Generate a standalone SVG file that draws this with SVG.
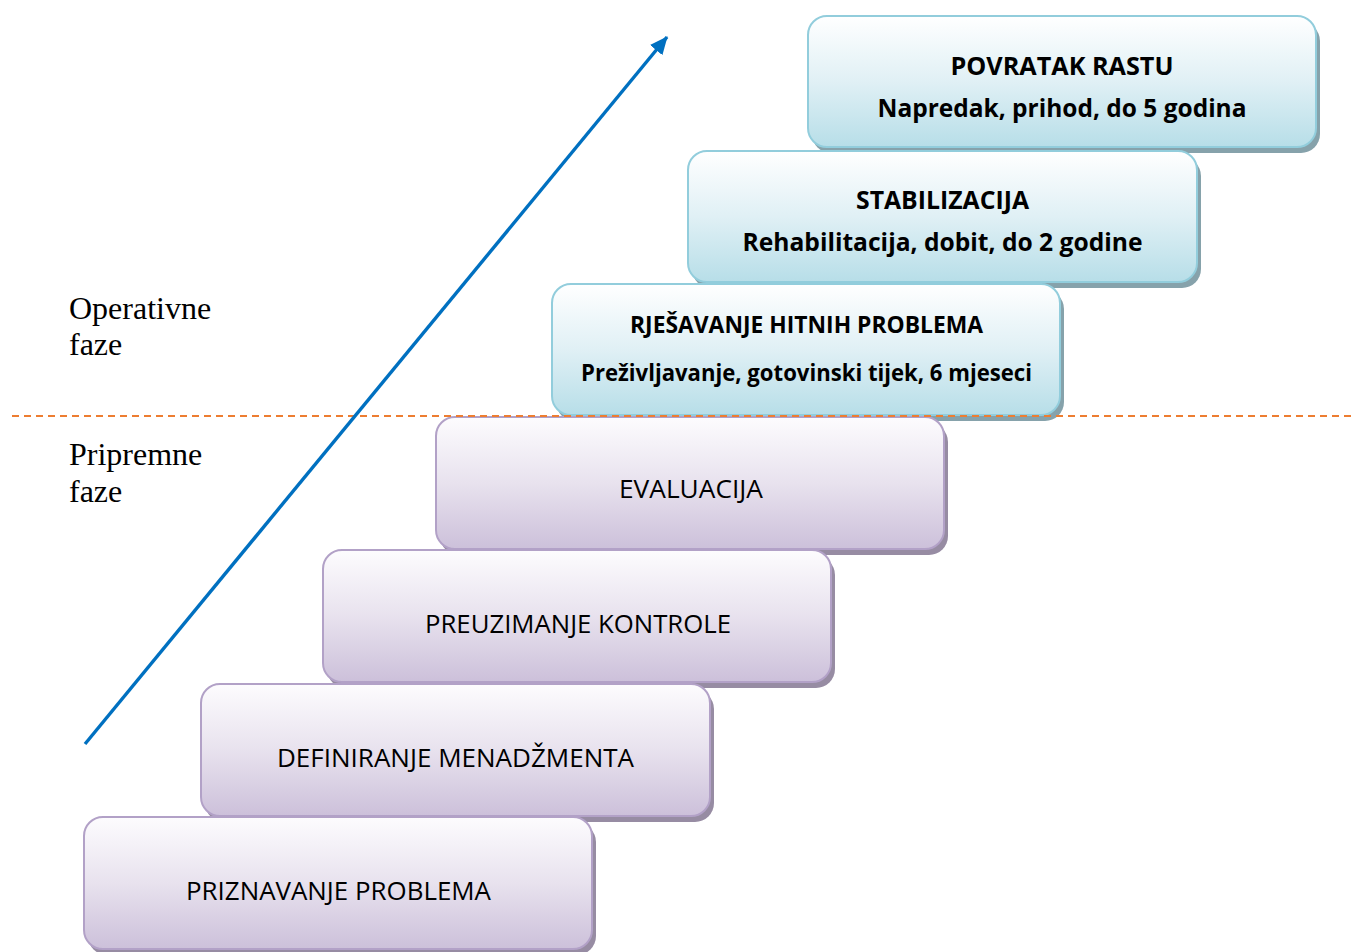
<svg xmlns="http://www.w3.org/2000/svg" width="1355" height="952" viewBox="0 0 1355 952">
<style>
.bt{font-family:"Open Sans","Noto Sans",sans-serif;font-weight:bold;font-size:25px;fill:#000;text-anchor:middle}
.bt3{font-family:"Open Sans","Noto Sans",sans-serif;font-weight:bold;font-size:23px;fill:#000;text-anchor:middle}
.rt{font-family:"Open Sans","Noto Sans",sans-serif;font-size:26px;fill:#000;text-anchor:middle}
.lt{font-family:"Liberation Serif","Times New Roman",serif;font-size:32px;fill:#000}
.bbox{fill:url(#gb);stroke:#92cddc;stroke-width:2}
.pbox{fill:url(#gp);stroke:#b2a1c7;stroke-width:2}
.bsh{fill:#86a2ab;filter:url(#blur)}
.psh{fill:#978ca3;filter:url(#blur)}
</style>
<defs>
<linearGradient id="gb" x1="0" y1="0" x2="0" y2="1">
<stop offset="0" stop-color="#ffffff"/>
<stop offset="0.5" stop-color="#e0f0f5"/>
<stop offset="1" stop-color="#b7dee8"/>
</linearGradient>
<linearGradient id="gp" x1="0" y1="0" x2="0" y2="1">
<stop offset="0" stop-color="#fdfcfe"/>
<stop offset="0.5" stop-color="#e8e2ee"/>
<stop offset="1" stop-color="#ccc0da"/>
</linearGradient>
<filter id="blur" x="-5%" y="-5%" width="110%" height="115%">
<feGaussianBlur stdDeviation="0.7"/>
</filter>
<marker id="ah" markerUnits="userSpaceOnUse" markerWidth="22" markerHeight="22" refX="17" refY="8" orient="auto">
<path d="M0,0 L18,8 L0,16 Z" fill="#0070c0"/>
</marker>
</defs>
<rect width="1355" height="952" fill="#ffffff"/>

<g id="n1">
<rect class="bsh" x="812" y="22" width="508" height="131" rx="19"/>
<rect class="bbox" x="808" y="16" width="508" height="131" rx="19"/>
<text class="bt" x="1062" y="75" textLength="223" lengthAdjust="spacingAndGlyphs">POVRATAK RASTU</text>
<text class="bt" x="1062" y="117" textLength="369" lengthAdjust="spacingAndGlyphs">Napredak, prihod, do 5 godina</text>
</g>
<g id="n2">
<rect class="bsh" x="692" y="157" width="509" height="131" rx="19"/>
<rect class="bbox" x="688" y="151" width="509" height="131" rx="19"/>
<text class="bt" x="942.5" y="209" textLength="173" lengthAdjust="spacingAndGlyphs">STABILIZACIJA</text>
<text class="bt" x="942.5" y="251" textLength="400" lengthAdjust="spacingAndGlyphs">Rehabilitacija, dobit, do 2 godine</text>
</g>
<g id="n3">
<rect class="bsh" x="556" y="290" width="508" height="131" rx="19"/>
<rect class="bbox" x="552" y="284" width="508" height="131" rx="19"/>
<text class="bt3" x="806.5" y="333" textLength="353" lengthAdjust="spacingAndGlyphs">RJEŠAVANJE HITNIH PROBLEMA</text>
<text class="bt3" x="806.5" y="381" textLength="451" lengthAdjust="spacingAndGlyphs">Preživljavanje, gotovinski tijek, 6 mjeseci</text>
</g>
<g id="n4">
<rect class="psh" x="440" y="423" width="508" height="132" rx="19"/>
<rect class="pbox" x="436" y="417" width="508" height="132" rx="19"/>
<text class="rt" x="691" y="498" textLength="144" lengthAdjust="spacingAndGlyphs">EVALUACIJA</text>
</g>
<g id="n5">
<rect class="psh" x="327" y="556" width="508" height="132" rx="19"/>
<rect class="pbox" x="323" y="550" width="508" height="132" rx="19"/>
<text class="rt" x="578" y="633" textLength="306" lengthAdjust="spacingAndGlyphs">PREUZIMANJE KONTROLE</text>
</g>
<g id="n6">
<rect class="psh" x="205" y="690" width="509" height="132" rx="19"/>
<rect class="pbox" x="201" y="684" width="509" height="132" rx="19"/>
<text class="rt" x="455.5" y="767" textLength="357" lengthAdjust="spacingAndGlyphs">DEFINIRANJE MENADŽMENTA</text>
</g>
<g id="n7">
<rect class="psh" x="88" y="823" width="508" height="132" rx="19"/>
<rect class="pbox" x="84" y="817" width="508" height="132" rx="19"/>
<text class="rt" x="338.5" y="900" textLength="305" lengthAdjust="spacingAndGlyphs">PRIZNAVANJE PROBLEMA</text>
</g>

<g id="labels">
<text class="lt" x="69" y="319">Operativne</text>
<text class="lt" x="69" y="355">faze</text>
<text class="lt" x="69" y="465">Pripremne</text>
<text class="lt" x="69" y="502">faze</text>
</g>

<g id="connectors">
<line x1="12" y1="416" x2="1355" y2="416" stroke="#ed7d31" stroke-width="2" stroke-dasharray="7,5"/>
<line x1="85" y1="744" x2="667" y2="37" stroke="#0070c0" stroke-width="3.4" marker-end="url(#ah)"/>
</g>
</svg>
